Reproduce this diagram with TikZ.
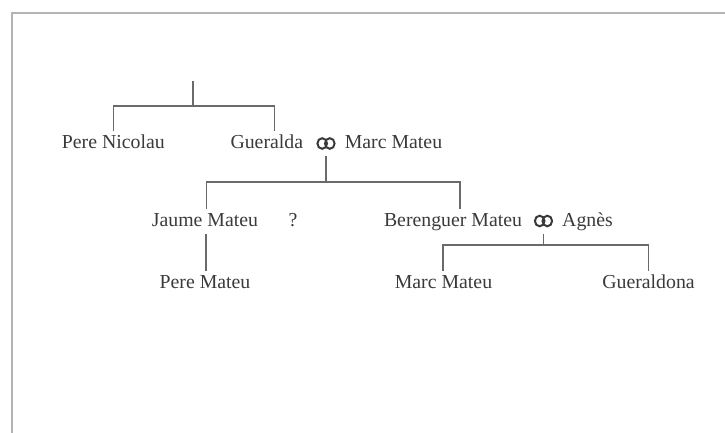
\documentclass[tikz,border=0pt]{standalone}
\usepackage{fontspec}
\setmainfont{Liberation Serif}
\definecolor{txt}{HTML}{3A3A3A}
\definecolor{lin}{HTML}{6A6A6A}
\definecolor{frm}{HTML}{B4B4B4}
\tikzset{
  person/.style={anchor=base, inner xsep=0pt, inner ysep=3pt, text height=14pt, text depth=4pt,
    font=\fontsize{19.8pt}{24pt}\selectfont, text=txt},
  link/.style={draw=lin, line width=1.6pt},
  ring/.style={draw=txt, line width=2pt},
  frameline/.style={draw=frm, line width=1.6pt}
}
\begin{document}
\begin{tikzpicture}[x=1pt, y=-1pt]
\useasboundingbox (0,0) rectangle (725,433);
% frame (top and left edges)
\coordinate (ftl) at (12,13);
\coordinate (ftr) at (725,13);
\coordinate (fbl) at (12,433);
\draw[frameline] (ftr) -- (ftl) -- (fbl);

% generation 1
\coordinate (top) at (193,81.5);
\coordinate (bar1) at (193,106);
\node[person] (pn) at (113.3,148.5) {Pere Nicolau};
\node[person] (gu) at (266.8,148.5) {Gueralda};
\node[person] (m1) at (326,148.5) {\hphantom{x}};
\node[person] (mm1) at (393.5,148.5) {Marc Mateu};
\draw[ring] ([xshift=-3.8pt,yshift=5pt]m1.base) ellipse [x radius=4.8pt, y radius=5.3pt];
\draw[ring] ([xshift=3.8pt,yshift=5pt]m1.base) ellipse [x radius=4.8pt, y radius=5.3pt];
\draw[link] (top) -- (bar1);
\draw[link] (pn.north) |- (bar1) -| ([xshift=7.5pt]gu.north);

% generation 2
\coordinate (bar2) at (327,182);
\node[person] (jm) at (205,226.5) {Jaume Mateu};
\node[person] (q) at (293,226.5) {?};
\node[person] (bm) at (453,226.5) {Berenguer Mateu};
\node[person] (m2) at (543.5,226.5) {\hphantom{x}};
\node[person] (ag) at (587.5,226.5) {Agnès};
\draw[ring] ([xshift=-3.8pt,yshift=5.5pt]m2.base) ellipse [x radius=4.8pt, y radius=5.3pt];
\draw[ring] ([xshift=3.8pt,yshift=5.5pt]m2.base) ellipse [x radius=4.8pt, y radius=5.3pt];
\draw[link] (m1.south) -- (m1.south |- bar2);
\draw[link] ([xshift=1.5pt]jm.north) |- (bar2) -| ([xshift=7pt]bm.north);

% generation 3
\coordinate (bar3) at (544,245);
\node[person] (pm) at (205,288.5) {Pere Mateu};
\node[person] (mm2) at (443.5,288.5) {Marc Mateu};
\node[person] (gd) at (648.5,288.5) {Gueraldona};
\draw[link] ([xshift=1pt]jm.south) -- ([xshift=1pt]pm.north);
\draw[link] (m2.south) -- (m2.south |- bar3);
\draw[link] ([xshift=-0.8pt]mm2.north) |- (bar3) -| (gd.north);
\end{tikzpicture}
\end{document}
